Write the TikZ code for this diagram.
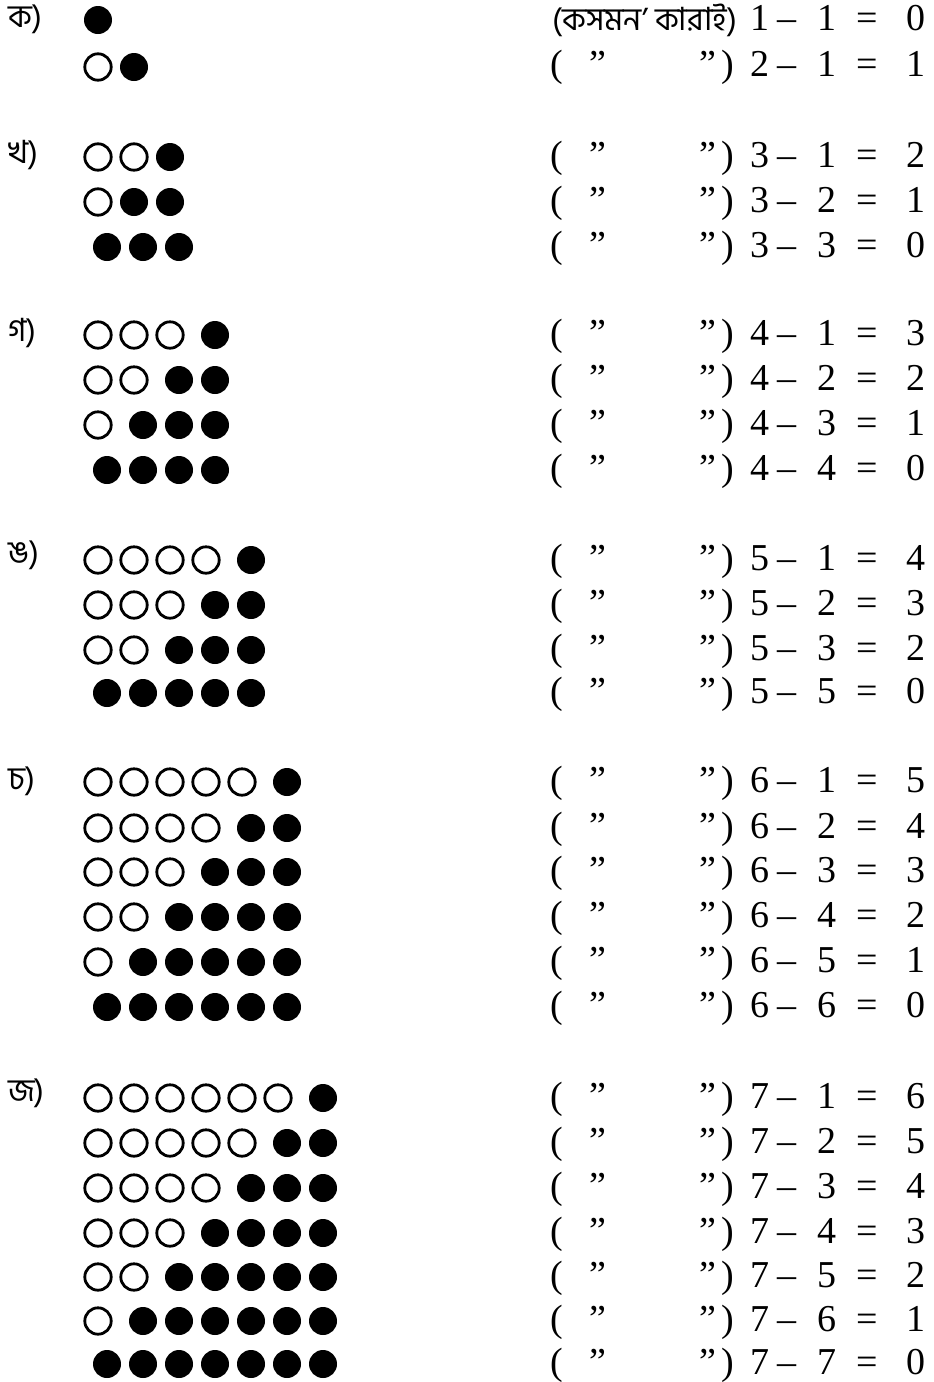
\documentclass[tikz,border=0pt]{standalone}
\usepackage{fontspec}
\setmainfont{Liberation Serif}
\newfontfamily\bnfont[Script=Bengali]{Hind Siliguri}
\usepackage{tikz}

% one row of counters: y, total, filled, gap before the filled ones
\newcommand{\dotrow}[4]{%
  \pgfmathtruncatemacro{\nopen}{#2-#3}%
  \ifnum\nopen>0
    \foreach \i in {1,...,\nopen} \draw[opendot] ({98+36*(\i-1)},#1) circle[radius=6.6pt];
  \fi
  \foreach \j in {1,...,#3} \fill ({98+36*(#2-1)+#4-36*(\j-1)},#1) circle[radius=7pt];
}
% one subtraction: y, total, taken away
\newcommand{\eqrow}[3]{%
  \node[eqtext] (e#2#3o) at (557,#1+10) {(};
  \node[eqtext] (e#2#3p) at (598,#1+10) {”};
  \node[eqtext] (e#2#3q) at (708,#1+10) {”};
  \node[eqtext] (e#2#3c) at (728,#1+10) {)};
  \eqtail{#1}{#2}{#3}%
}
\newcommand{\eqtail}[3]{%
  \pgfmathtruncatemacro{\rest}{#2-#3}%
  \node[eqtext] (e#2#3a) at (760,#1+10) {#2};
  \node[eqtext] (e#2#3m) at (787,#1+10) {–};
  \node[eqtext] (e#2#3b) at (827,#1+10) {#3};
  \node[eqtext] (e#2#3e) at (867,#1+10) {=};
  \node[eqtext] (e#2#3r) at (916,#1+10) {\rest};
}

\begin{document}
\begin{tikzpicture}[x=0.5pt, y=-0.5pt,
  opendot/.style={line width=1.4pt},
  eqtext/.style={anchor=base, inner sep=0pt, font=\fontsize{19}{21}\selectfont},
  lbl/.style={anchor=west, inner sep=0pt, font=\bnfont\fontsize{16}{18}\selectfont}]
  \useasboundingbox (0,0) rectangle (933,1382);

  % ka
  \node[lbl] (lka) at (8,19) {ক)};
  \dotrow{20}{1}{1}{0}
  \dotrow{67}{2}{1}{0}
  \node[lbl, anchor=base west, font=\bnfont\fontsize{16}{18}\selectfont] (hdr) at (552,30) {(কসমন’ কারাই)};
  \eqtail{20}{1}{1}
  \eqrow{66}{2}{1}

  % kha
  \node[lbl] (lkha) at (8,155) {খ)};
  \foreach \y/\k/\g in {157/1/0, 202/2/0, 247/3/9} {
    \dotrow{\y}{3}{\k}{\g}
    \eqrow{\y}{3}{\k}
  }

  % ga
  \node[lbl] (lga) at (8,333) {গ)};
  \foreach \y/\k in {335/1, 380/2, 425/3, 470/4} {
    \dotrow{\y}{4}{\k}{9}
    \eqrow{\y}{4}{\k}
  }

  % nga
  \node[lbl] (lnga) at (8,555) {ঙ)};
  \foreach \y/\k in {560/1, 605/2, 650/3, 693/5} {
    \dotrow{\y}{5}{\k}{9}
    \eqrow{\y}{5}{\k}
  }

  % ca
  \node[lbl] (lca) at (8,781) {চ)};
  \foreach \y/\k in {782/1, 828/2, 872/3, 917/4, 962/5, 1007/6} {
    \dotrow{\y}{6}{\k}{9}
    \eqrow{\y}{6}{\k}
  }

  % ja
  \node[lbl] (lja) at (8,1093) {জ)};
  \foreach \y/\k in {1098/1, 1143/2, 1188/3, 1233/4, 1277/5, 1321/6, 1364/7} {
    \dotrow{\y}{7}{\k}{9}
    \eqrow{\y}{7}{\k}
  }
\end{tikzpicture}
\end{document}
